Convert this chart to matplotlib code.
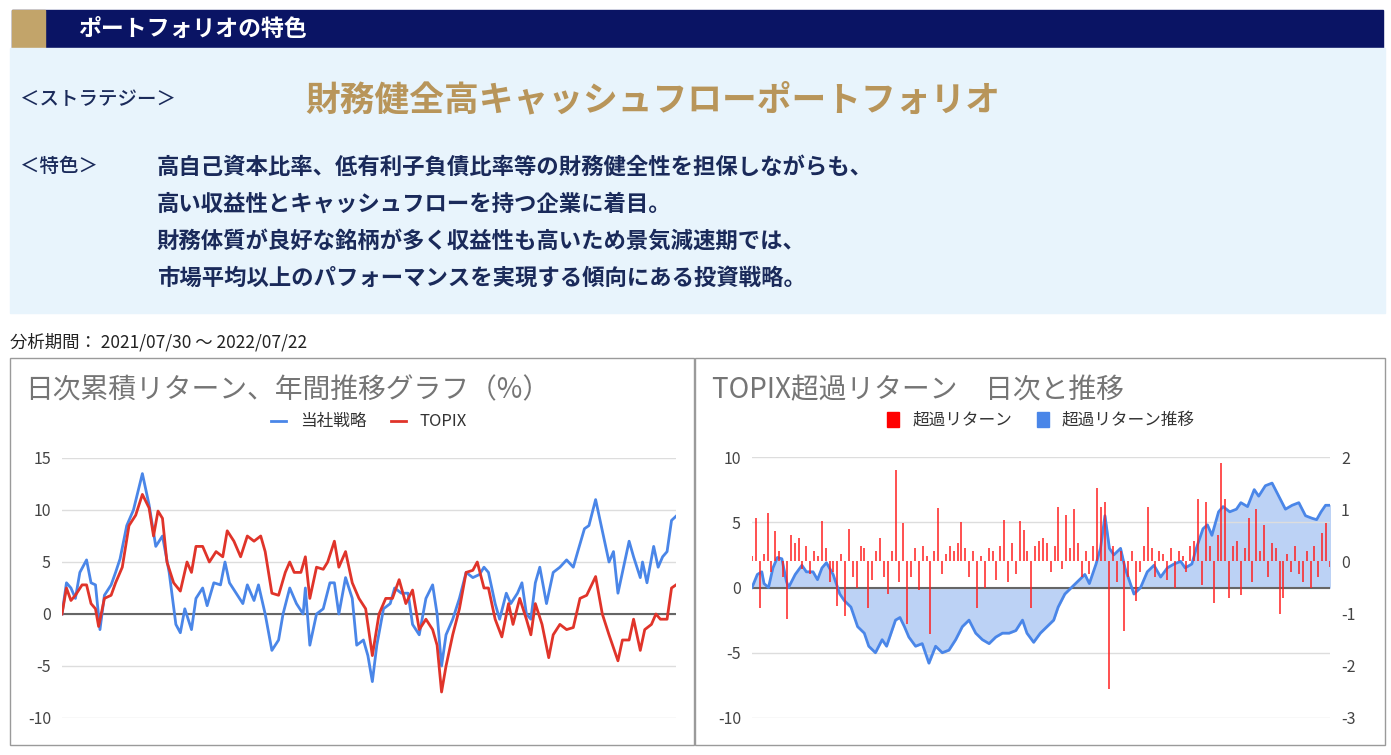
import numpy as np
import matplotlib
matplotlib.use("Agg")
import matplotlib.pyplot as plt
from matplotlib.patches import Rectangle, Patch

plt.rcParams['font.family'] = ['Noto Sans CJK JP', 'DejaVu Sans']
plt.rcParams['axes.unicode_minus'] = False

# ---- data (x = pixel-read position across the period, converted to trading days) ----
strat_x = [140,150,160,170,180,195,205,215,225,235,250,260,270,285,300,320,335,350,365,380,395,405,415,430,440,455,465,480,495,505,515,530,545,555,570,580,595,610,625,635,650,665,680,685,695,710,725,740,750,760,775,790,800,815,825,835,845,860,875,885,900,915,925,940,955,970,980,990,1000,1015,1030,1045,1060,1075,1085,1095,1110,1120,1135,1145,1160,1170,1180,1190,1200,1210,1225,1240,1255,1270,1285,1295,1310,1320,1335,1350,1365,1375,1385,1395,1410,1420,1435,1440,1450,1465,1475,1485,1495,1505,1515]
strat_y = [0,3,2.5,1.5,4,5.2,3,2.8,-1.5,1.8,2.8,4,5.3,8.5,10,13.5,10.5,6.5,7.5,4,-1,-1.8,0.5,-1.5,1.5,2.5,0.8,3,2.8,5,3,2,1,2.8,1.3,2.8,0,-3.5,-2.5,0,2.5,1,0,2.5,-3,0,0.5,3,3,0,3.5,1.5,-3,-2.5,-4,-6.5,-3,0.5,1,2.5,2,2,-1,-2,1.5,2.8,0,-5,-2,-0.5,1.5,4,3.5,3.8,4.5,4,1,-0.5,2,1,2,3,0,-0.5,3,4.5,1,4,4.5,5.2,4.5,6,8.2,8.5,11,8,5,6,2,4,7,5.5,3.5,5,3,6.5,4.5,5.5,6,9,9.4]
topix_x = [140,150,160,170,185,195,205,215,222,235,250,260,275,290,305,320,335,345,355,365,375,390,405,420,430,440,455,470,485,500,510,525,540,555,570,585,595,610,625,640,650,660,675,685,695,710,725,735,750,760,775,790,805,820,835,850,865,880,895,910,925,940,955,970,980,990,1000,1015,1030,1045,1060,1070,1085,1095,1110,1125,1140,1150,1165,1180,1190,1200,1215,1230,1240,1255,1270,1285,1300,1315,1335,1350,1365,1385,1395,1410,1420,1435,1445,1460,1470,1480,1495,1505,1515]
topix_y = [0,2.5,1.3,1.8,2.8,2.8,1,0.5,-1.2,1.5,1.8,3,4.5,8.5,9.5,11.5,10.2,7.5,9.9,9.2,5,3,2.2,5,4,6.5,6.5,5,6,5.5,8,7,5.5,7.5,7,7.5,6,2,1.8,4,5,4,4,5.5,1.5,4.5,4.3,5,7,4.5,6,3,1.5,0.5,-4,0,1.5,1.5,3.3,1,2.3,-1.5,-0.5,-1.5,-3,-7.5,-5,-2,0.5,4,4.2,5,2.5,2.5,-0.5,-2.2,1,-1,1.5,-0.5,-2,1,-1,-4.2,-2,-1,-1.5,-1.3,1.5,1.8,3.6,0,-2,-4.5,-2.5,-2.5,-0.5,-3.5,-1.5,-1,0,-0.5,-0.5,2.5,2.8]

excess_cum_x = [128,140,150,155,165,175,185,195,205,210,225,240,250,265,275,285,295,310,325,335,350,365,380,390,405,420,430,440,450,460,470,480,495,510,525,540,555,570,585,600,615,630,645,660,675,690,705,720,735,745,760,775,790,805,815,830,845,860,875,885,900,910,920,930,940,955,965,975,985,1000,1015,1030,1045,1060,1075,1090,1100,1115,1125,1140,1150,1160,1175,1185,1200,1215,1225,1240,1255,1265,1280,1295,1310,1325,1340,1355,1370,1385,1395,1405,1415,1425]
excess_cum_y = [0,1,1.2,0.3,0,1.5,2.3,2.2,0.5,0,1,1.7,1.2,1.2,0.6,1.5,1.9,1,-0.5,-1,-1.5,-3,-3.5,-4.5,-5,-4,-4.5,-3.5,-2.5,-2.3,-3,-3.8,-4.5,-4.3,-5.8,-4.5,-5,-4.8,-4,-3,-2.5,-3.5,-4,-4.3,-3.8,-3.5,-3.5,-3.3,-2.5,-3.5,-4.2,-3.5,-3,-2.5,-1.5,-0.5,0,0.5,1,0.3,1.8,3,5.5,3,2.5,3,1.5,0.5,-0.5,0,1.2,1.7,0.8,1.5,1.8,2,1.5,1.8,3,4.5,4.8,4,5.8,6.2,5.8,6,6.5,6.2,7.5,7,7.8,8,7,6,6.3,6.5,5.5,5.3,5.2,5.8,6.3,6.3]
excess_daily = [0.1,0.83,-0.9,0.15,0.93,-0.2,0.58,0.2,-0.3,-1.1,0.5,0.35,0.45,-0.15,0.3,-0.25,0.2,0.1,0.78,0.25,
                -0.4,-0.2,-0.85,0.15,-1.05,0.63,-0.3,-0.5,0.3,0.25,-0.9,-0.35,0.2,0.45,-0.3,-0.63,0.2,1.75,-0.4,0.73,
                -1.2,-0.3,0.25,-0.55,0.3,0.1,-1.4,0.2,1.03,-0.25,0.15,0.3,0.2,0.35,0.75,0.25,-0.3,0.2,-0.9,0.1,
                -0.5,0.25,0.2,-0.35,0.3,0.8,-0.4,0.35,-0.25,0.78,0.6,0.2,-0.9,0.3,0.4,0.45,0.35,-0.2,0.3,1.05,
                -0.15,0.88,0.25,1.0,0.35,-0.3,0.2,-0.25,0.3,1.4,1.05,1.13,-2.45,0.3,-0.4,0.2,-1.33,-0.3,0.2,-0.75,
                -0.2,0.3,1.05,0.25,-0.3,0.2,0.15,-0.35,0.25,-0.5,0.2,0.1,-0.2,0.3,0.4,1.2,-0.45,1.13,0.3,-0.8,
                0.5,1.88,1.2,-0.7,0.3,0.4,-0.65,0.25,0.83,-0.4,1.0,0.2,0.7,-0.3,0.35,0.25,-1.0,-0.7,0.15,-0.2,
                0.3,-0.25,-0.4,0.2,-0.5,0.3,-0.3,0.55,0.73,-0.1]

left_ticks = [-10, -5, 0, 5, 10, 15]
right_left_ticks = [-10, -5, 0, 5, 10]
right_right_ticks = [-3, -2, -1, 0, 1, 2]
NDAYS = 245

W, H = 1391, 755
fig = plt.figure(figsize=(W/100, H/100), dpi=100)

def box(x0, y0, x1, y1):
    return [x0/W, 1-y1/H, (x1-x0)/W, (y1-y0)/H]

def ftext(x, y, s, **kw):
    fig.text(x/W, 1-y/H, s, **kw)

NAVY = '#1a2a5a'
# header
fig.patches.append(Rectangle((12/W, 1-48/H), 1371/W, 38/H, transform=fig.transFigure, color='#0a1464'))
fig.patches.append(Rectangle((12/W, 1-48/H), 33/W, 38/H, transform=fig.transFigure, color='#c2a46a'))
fig.patches.append(Rectangle((10/W, 1-313/H), 1375/W, 265/H, transform=fig.transFigure, color='#e8f4fc'))
ftext(78, 29, 'ポートフォリオの特色', color='white', fontsize=16.5, fontweight='bold', va='center')
ftext(20, 100, '＜ストラテジー＞', color=NAVY, fontsize=14, fontweight='medium', va='center')
ftext(653, 100, '財務健全高キャッシュフローポートフォリオ', color='#b8955a', fontsize=25, fontweight='bold', va='center', ha='center')
ftext(20, 167, '＜特色＞', color=NAVY, fontsize=14, fontweight='medium', va='center')
lines = ['高自己資本比率、低有利子負債比率等の財務健全性を担保しながらも、',
         '高い収益性とキャッシュフローを持つ企業に着目。',
         '財務体質が良好な銘柄が多く収益性も高いため景気減速期では、',
         '市場平均以上のパフォーマンスを実現する傾向にある投資戦略。']
for i, s in enumerate(lines):
    ftext(157, 167 + i*37, s, color=NAVY, fontsize=16.1, fontweight='bold', va='center')
ftext(10, 342, '分析期間： 2021/07/30 ～ 2022/07/22', color='#222222', fontsize=12.5, va='center')

# panel frames
for (x0, x1) in [(10, 694), (695, 1385)]:
    fig.patches.append(Rectangle((x0/W, 1-745/H), (x1-x0)/W, 387/H, transform=fig.transFigure,
                                 fill=False, edgecolor='#9a9a9a', lw=1))

ftext(25, 390, '日次累積リターン、年間推移グラフ（%）', color='#757575', fontsize=20, va='center')
ftext(712, 390, 'TOPIX超過リターン　日次と推移', color='#757575', fontsize=20, va='center')

def to_days(xs, x0, x1):
    return (np.array(xs) - x0) / (x1 - x0) * (NDAYS - 1)

BLUE = '#4a86e8'
RED = '#e0342a'

# left chart
ax = fig.add_axes(box(62, 458, 676, 718))
ax.plot(to_days(strat_x, 140, 1515), strat_y, color=BLUE, lw=2, label='当社戦略', zorder=3)
ax.plot(to_days(topix_x, 140, 1515), topix_y, color=RED, lw=2, label='TOPIX', zorder=3)
ax.axhline(0, color='#666666', lw=1.5, zorder=2)
ax.set_ylim(-10, 15)
ax.set_xlim(0, NDAYS-1)
ax.set_yticks(left_ticks)
ax.grid(axis='y', color='#dddddd', lw=1)
ax.set_xticks([])
for s in ax.spines.values():
    s.set_visible(False)
ax.tick_params(axis='y', length=0, labelsize=11.5, colors='#444444', pad=8)
ax.legend(loc='lower center', bbox_to_anchor=(0.5, 1.05), ncol=2, frameon=False, fontsize=12,
          handlelength=0.9, handleheight=0.4, columnspacing=1.5, labelcolor='#333333')

# right chart
axl = fig.add_axes(box(752, 457, 1330, 718))
axr = axl.twinx()
cx = to_days(excess_cum_x, 128, 1425)
axl.fill_between(cx, excess_cum_y, 0, color='#bcd2f5', zorder=1)
axl.plot(cx, excess_cum_y, color=BLUE, lw=2, zorder=3)
axl.axhline(0, color='#666666', lw=1.5, zorder=2)
axl.set_ylim(-10, 10)
axl.set_xlim(0, NDAYS-1)
axl.set_yticks(right_left_ticks)
axl.grid(axis='y', color='#dddddd', lw=1)
axl.set_xticks([])
bx = np.linspace(0, NDAYS-1, len(excess_daily))
axr.vlines(bx, 0, excess_daily, color='#ff2020', lw=1.1, zorder=4)
axr.set_ylim(-3, 2)
axr.set_yticks(right_right_ticks)
axl.set_zorder(1); axr.set_zorder(2); axr.patch.set_visible(False)
for a in (axl, axr):
    for s in a.spines.values():
        s.set_visible(False)
    a.tick_params(axis='y', length=0, labelsize=11.5, colors='#444444', pad=8)
axl.legend(handles=[Patch(color='#ff0000', label='超過リターン'), Patch(color=BLUE, label='超過リターン推移')],
           loc='lower center', bbox_to_anchor=(0.5, 1.05), ncol=2, frameon=False, fontsize=12,
           handlelength=0.7, handleheight=1.0, columnspacing=1.5, labelcolor='#333333')

fig.savefig('out.png', dpi=100)
